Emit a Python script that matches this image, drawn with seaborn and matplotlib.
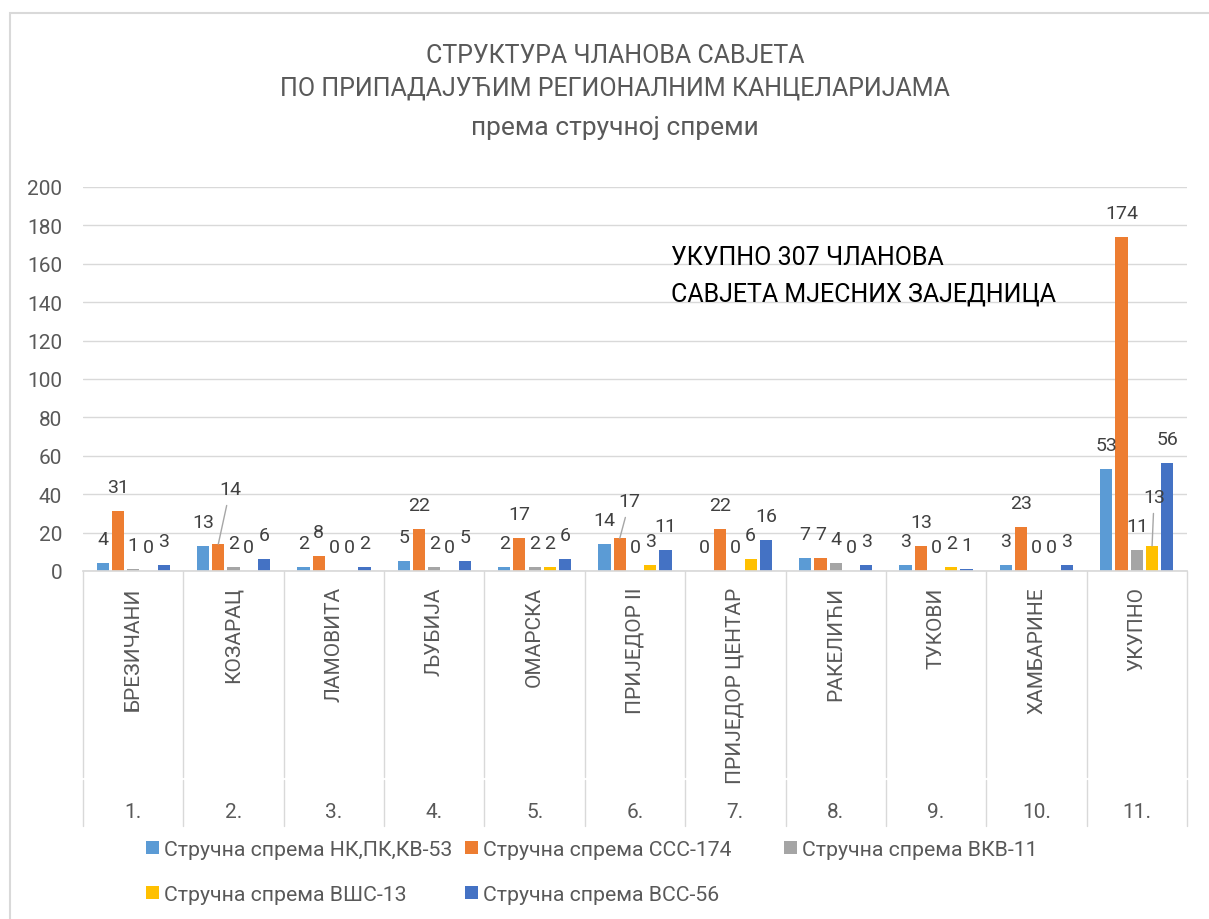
import numpy as np
import pandas as pd
import matplotlib
matplotlib.use('Agg')
import matplotlib.pyplot as plt
from matplotlib.patches import Patch, Rectangle
import seaborn as sns

# podaci
regions = ['БРЕЗИЧАНИ', 'КОЗАРАЦ', 'ЛАМОВИТА', 'ЉУБИЈА', 'ОМАРСКА', 'ПРИЈЕДОР II',
           'ПРИЈЕДОР ЦЕНТАР', 'РАКЕЛИЋИ', 'ТУКОВИ', 'ХАМБАРИНЕ', 'УКУПНО']
numbers = ['1.', '2.', '3.', '4.', '5.', '6.', '7.', '8.', '9.', '10.', '11.']
series = ['Стручна спрема НК,ПК,КВ-53', 'Стручна спрема ССС-174', 'Стручна спрема ВКВ-11',
          'Стручна спрема ВШС-13', 'Стручна спрема ВСС-56']
nk = [4, 13, 2, 5, 2, 14, 0, 7, 3, 3, 53]
sss = [31, 14, 8, 22, 17, 17, 22, 7, 13, 23, 174]
vkv = [1, 2, 0, 2, 2, 0, 0, 4, 0, 0, 11]
vsh = [0, 0, 0, 0, 2, 3, 6, 0, 2, 0, 13]
vss = [3, 6, 2, 5, 6, 11, 16, 3, 1, 3, 56]
values = [nk, sss, vkv, vsh, vss]
colors = ['#5B9BD5', '#ED7D31', '#A5A5A5', '#FFC000', '#4472C4']

title_lines = ['СТРУКТУРА ЧЛАНОВА САВЈЕТА', 'ПО ПРИПАДАЈУЋИМ РЕГИОНАЛНИМ КАНЦЕЛАРИЈАМА',
               'према стручној спреми']
note_lines = ['УКУПНО 307 ЧЛАНОВА', 'САВЈЕТА МЈЕСНИХ ЗАЈЕДНИЦА']

df = pd.DataFrame({'регион': regions * len(series),
                   'серија': np.repeat(series, len(regions)),
                   'вредност': sum(values, [])})

sns.set_theme(style='white')
plt.rcParams['font.family'] = ['Roboto', 'DejaVu Sans']

W, H = 1209, 920
fig = plt.figure(figsize=(W / 100, H / 100), dpi=100)
ax = fig.add_axes([83 / W, 1 - 572 / H, (1187 - 83) / W, (572 - 188) / H])

sns.barplot(data=df, x='регион', y='вредност', hue='серија', order=regions, hue_order=series,
            palette=colors, width=0.76, gap=0.2, saturation=1, linewidth=0, legend=False, ax=ax)

ax.set_ylim(0, 200)
ax.set_yticks(range(0, 201, 20))
ax.set_xlim(-0.5, len(regions) - 0.5)
ax.grid(axis='y', color='#d9d9d9', lw=1)
ax.set_axisbelow(True)
for s in ['left', 'top', 'right']:
    ax.spines[s].set_visible(False)
ax.spines['bottom'].set_color('#d9d9d9')
ax.set_xlabel('')
ax.set_ylabel('')
ax.tick_params(axis='y', length=0, pad=15, labelsize=15, labelcolor='#595959')
ax.tick_params(axis='x', length=0, pad=11, labelsize=15, labelcolor='#595959')
ax.set_xticks(range(len(regions)))
ax.set_xticklabels(regions, rotation=90, va='top', ha='center')

# separatori kategorija i drugi nivo
tr = ax.get_xaxis_transform()
for b in np.arange(-0.5, len(regions), 1):
    ax.plot([b, b], [0, -0.536], transform=tr, color='#d9d9d9', lw=1, clip_on=False)
    ax.plot([b, b], [-0.544, -0.664], transform=tr, color='#d9d9d9', lw=1, clip_on=False)
for i, n in enumerate(numbers):
    ax.text(i, -0.6276, n, transform=tr, ha='center', va='center', fontsize=15, color='#595959')

# oznake podataka
moved = {(1, 1): (8.6, 39.6), (1, 5): (7.2, 26.8), (3, 10): (1.5, 35.3)}
for si, cont in enumerate(ax.containers):
    for ci, bar in enumerate(cont):
        x = bar.get_x() + bar.get_width() / 2
        y = bar.get_height()
        if (si, ci) in moved:
            ax.annotate(str(values[si][ci]), (x, y), xytext=moved[(si, ci)], textcoords='offset points',
                        ha='center', va='center', fontsize=14, color='#404040',
                        arrowprops=dict(arrowstyle='-', color='#a6a6a6', lw=1, shrinkA=3, shrinkB=0),
                        annotation_clip=False)
        else:
            ax.annotate(str(values[si][ci]), (x, y), xytext=(0, 17.3), textcoords='offset points',
                        ha='center', va='center', fontsize=14, color='#404040', annotation_clip=False)

# naslov
for txt, yb, fs in zip(title_lines, [63, 96, 135], [18, 18, 19]):
    fig.text(615 / W, 1 - yb / H, txt, ha='center', va='baseline', fontsize=fs, color='#595959')

for txt, yb in zip(note_lines, [265, 301]):
    fig.text(671 / W, 1 - yb / H, txt, ha='left', va='baseline', fontsize=18, color='black')

# legenda u tri kolone jednake sirine
handles = [Patch(facecolor=c, edgecolor='none') for c in colors]
cols = [([0, 3], 146), ([1, 4], 465), ([2], 784)]
for idx, xpx in cols:
    leg = fig.legend([handles[k] for k in idx], [series[k] for k in idx], loc='upper left',
                     bbox_to_anchor=(xpx / W, 1 - 841 / H), frameon=False, fontsize=15.3,
                     borderpad=0, borderaxespad=0, handlelength=0.6, handleheight=0.6,
                     handletextpad=0.25, labelspacing=1.22, labelcolor='#595959')

fig.patches.append(Rectangle((10 / W, -0.5), 2, 0.5 + 1 - 14 / H, transform=fig.transFigure,
                             fill=False, edgecolor='#d9d9d9', lw=1.5))

fig.savefig('out.png', dpi=100)
